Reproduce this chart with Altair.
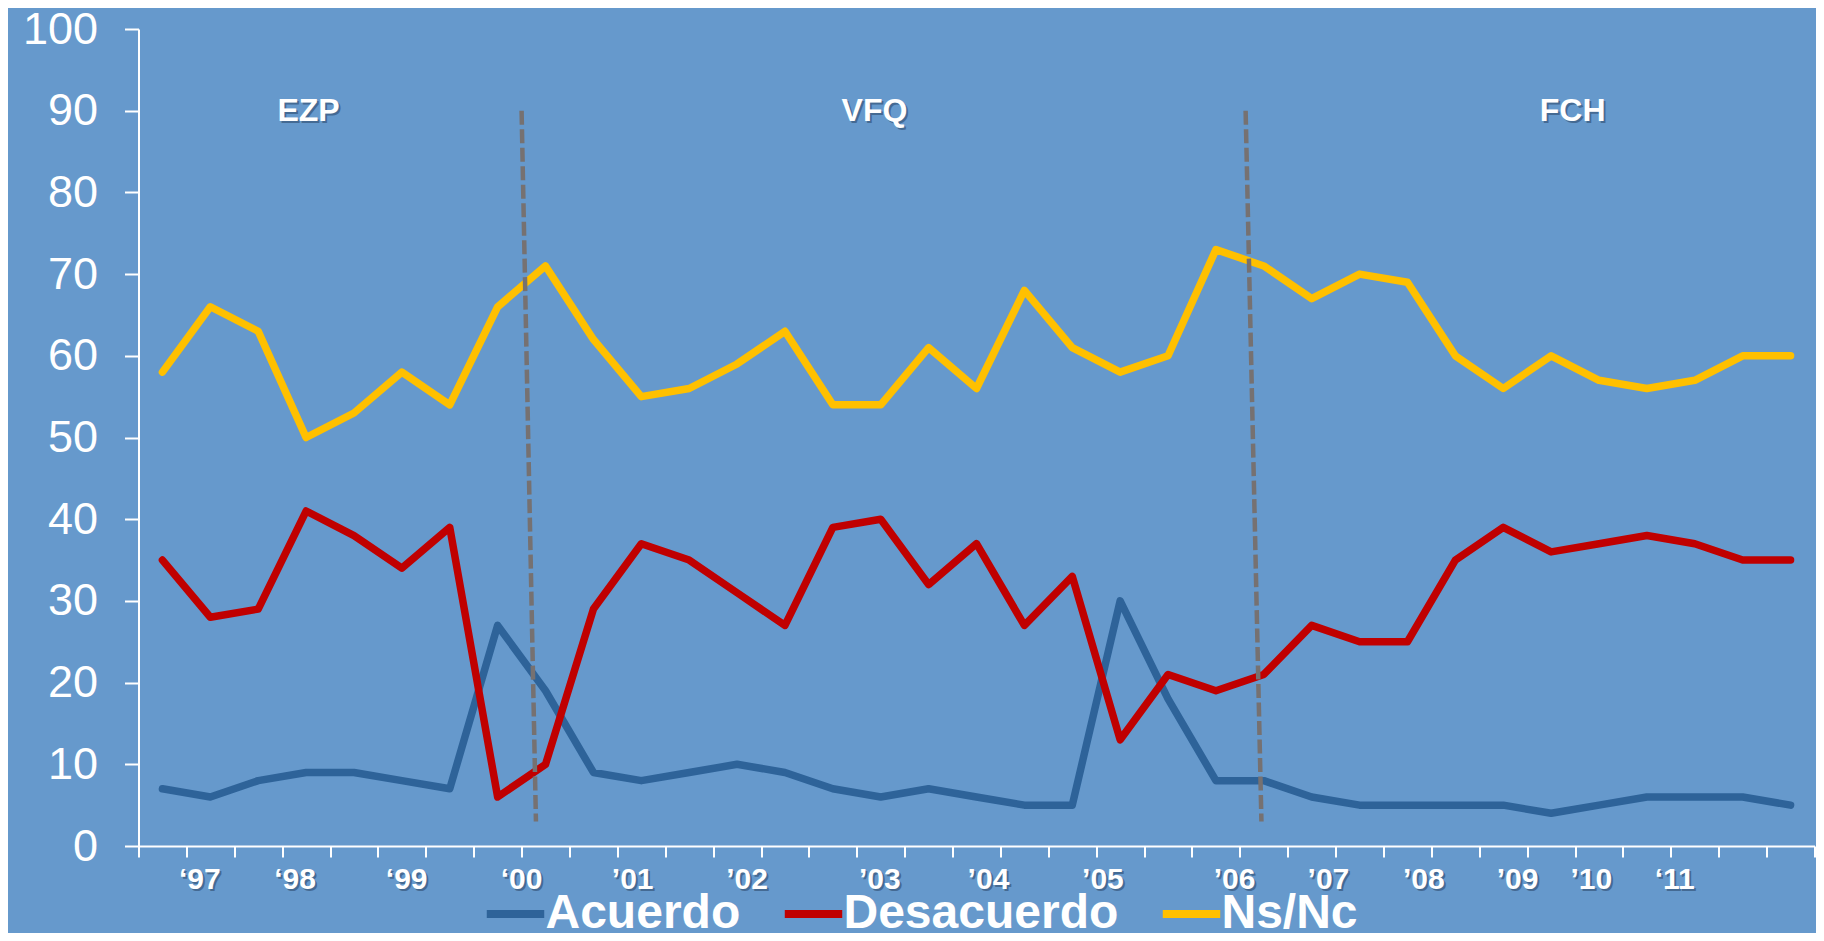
import altair as alt
import pandas as pd

# ---- data ----
survey = list(range(35))
acuerdo = [7, 6, 8, 9, 9, 8, 7, 27, 19, 9, 8, 9, 10, 9, 7, 6, 7, 6, 5, 5,
           30, 18, 8, 8, 6, 5, 5, 5, 5, 4, 5, 6, 6, 6, 5]
desacuerdo = [35, 28, 29, 41, 38, 34, 39, 6, 10, 29, 37, 35, 31, 27, 39, 40, 32, 37, 27, 33,
              13, 21, 19, 21, 27, 25, 25, 35, 39, 36, 37, 38, 37, 35, 35]
nsnc = [58, 66, 63, 50, 53, 58, 54, 66, 71, 62, 55, 56, 59, 63, 54, 54, 61, 56, 68, 61,
        58, 60, 73, 71, 67, 70, 69, 60, 56, 60, 57, 56, 57, 60, 60]
series_names = ["Acuerdo", "Desacuerdo", "Ns/Nc"]
series_colors = ["#2E6399", "#C00000", "#FFC000"]

year_labels = ["\u201897", "\u201898", "\u201899", "\u201800", "\u201901", "\u201902", "\u201903",
               "\u201904", "\u201905", "\u201906", "\u201907", "\u201908", "\u201909", "\u201910", "\u201811"]
year_label_x = [0.78, 2.77, 5.10, 7.50, 9.82, 12.21, 14.98, 17.25, 19.64, 22.39,
                24.35, 26.34, 28.30, 29.84, 31.58]

period_labels = ["EZP", "VFQ", "FCH"]
period_label_x = [3.05, 14.87, 29.45]

divider_x = [7.50, 22.62]
divider_x2 = [7.80, 22.95]

tick_values = [i - 0.5 for i in range(36)]

# ---- tables ----
rows = []
for name, vals in zip(series_names, [acuerdo, desacuerdo, nsnc]):
    for s, v in zip(survey, vals):
        rows.append({"survey": s, "value": v, "series": name})
df = pd.DataFrame(rows)

years_df = pd.DataFrame({"x": year_label_x, "label": year_labels, "y": -4.2})
periods_df = pd.DataFrame({"x": period_label_x, "label": period_labels, "y": 90})
div_df = pd.DataFrame({"x": divider_x, "x2": divider_x2, "y": 90, "y2": 3})

FONT = "Liberation Sans"
xscale = alt.Scale(domain=[-0.5, 34.5], nice=False, zero=False)
yscale = alt.Scale(domain=[0, 100], nice=False)

x_axis = alt.Axis(values=tick_values, labels=False, title=None, grid=False,
                  tickSize=11, tickWidth=2, tickColor="white",
                  domainColor="white", domainWidth=2)
y_axis = alt.Axis(values=list(range(0, 101, 10)), title=None, grid=False,
                  tickSize=14, tickWidth=2, tickColor="white",
                  domainColor="white", domainWidth=2,
                  labelFont=FONT, labelFontSize=45, labelColor="white",
                  labelPadding=27)

lines = alt.Chart(df).mark_line(strokeWidth=7.5, strokeJoin="round", strokeCap="round").encode(
    x=alt.X("survey:Q", scale=xscale, axis=x_axis),
    y=alt.Y("value:Q", scale=yscale, axis=y_axis),
    color=alt.Color("series:N", sort=series_names,
                    scale=alt.Scale(domain=series_names, range=series_colors),
                    legend=alt.Legend(orient="none", legendX=344, legendY=852,
                                      direction="horizontal", title=None,
                                      symbolType="stroke", symbolSize=3300,
                                      symbolStrokeWidth=8,
                                      labelFont=FONT, labelFontSize=48,
                                      labelFontWeight="bold", labelColor="white",
                                      labelOffset={"expr": "-3"}, columnPadding=28,
                                      labelLimit=500, padding=0)),
)

dividers = alt.Chart(div_df).mark_rule(color="#767171", strokeWidth=4.5,
                                       strokeDash=[14, 4.5]).encode(
    x=alt.X("x:Q", scale=xscale, axis=x_axis),
    x2="x2:Q",
    y=alt.Y("y:Q", scale=yscale, axis=y_axis),
    y2="y2:Q",
)


def text_layer(data, size, color, dx=0, dy=0, opacity=1.0):
    return alt.Chart(data).mark_text(font=FONT, fontSize=size, fontWeight="bold",
                                     color=color, dx=dx, dy=dy, opacity=opacity,
                                     align="center", baseline="middle").encode(
        x=alt.X("x:Q", scale=xscale, axis=x_axis),
        y=alt.Y("y:Q", scale=yscale, axis=y_axis),
        text="label:N",
    )


SHADOW = "#2A4466"
years_shadow = text_layer(years_df, 30, SHADOW, dx=2, dy=2, opacity=0.55)
years_text = text_layer(years_df, 30, "white")
periods_shadow = text_layer(periods_df, 32, SHADOW, dx=2, dy=2, opacity=0.55)
periods_text = text_layer(periods_df, 32, "white")

chart = alt.layer(lines, dividers, years_shadow, years_text, periods_shadow, periods_text).properties(
    width=1676, height=817,
    autosize=alt.AutoSizeParams(type="none"),
    padding={"left": 130.5, "top": 21, "right": 1.5, "bottom": 87},
    background="#6699CC",
).configure_view(stroke=None)

chart.save("out.html", embed_options={"renderer": "svg", "actions": False})
